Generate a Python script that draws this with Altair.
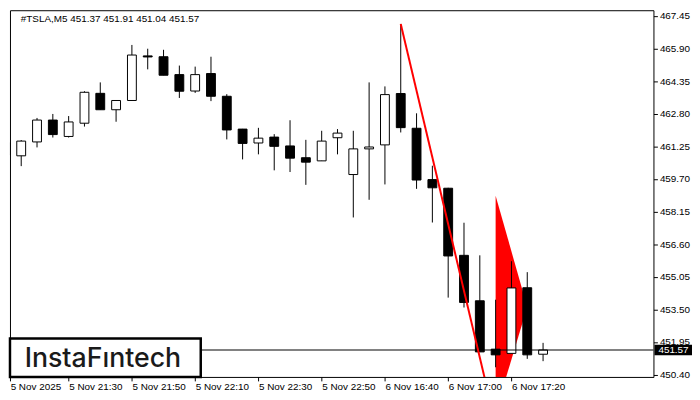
import altair as alt
import pandas as pd

# ---- data ----
opens  = [461.42, 460.80, 461.46, 462.50, 461.72, 462.35, 463.77, 462.99, 463.43, 465.55,
          465.51, 464.66, 463.88, 464.71, 463.63, 462.07, 461.41, 461.69, 461.27, 460.71,
          460.56, 461.66, 459.91, 461.13, 461.32, 463.76, 462.11, 459.67, 459.26, 456.07,
          453.91, 451.61, 451.41, 454.53, 451.37]
highs  = [462.10, 461.55, 462.60, 462.79, 462.69, 463.87, 464.29, 463.43, 466.07, 465.89,
          465.84, 465.09, 465.04, 465.51, 463.73, 462.08, 462.13, 461.83, 462.49, 461.56,
          461.99, 462.07, 461.99, 464.29, 464.10, 467.07, 462.82, 460.33, 459.28, 457.62,
          456.07, 453.96, 455.79, 455.27, 451.91]
lows   = [460.50, 460.31, 461.20, 461.67, 461.67, 462.19, 462.99, 462.42, 463.43, 464.91,
          464.63, 463.55, 463.79, 463.40, 461.58, 460.63, 460.87, 460.11, 460.03, 459.42,
          460.56, 460.87, 457.87, 458.71, 459.44, 461.91, 459.23, 457.63, 454.06, 453.59,
          451.48, 450.75, 451.41, 451.15, 451.04]
closes = [460.85, 461.50, 462.50, 461.81, 462.41, 463.82, 462.99, 463.43, 465.59, 465.50,
          464.63, 463.87, 464.66, 463.63, 462.03, 461.39, 461.64, 461.25, 460.69, 460.50,
          461.50, 461.88, 461.13, 461.22, 463.71, 462.14, 459.65, 459.28, 456.04, 453.83,
          451.48, 451.34, 454.52, 451.34, 451.57]

x_labels = ["5 Nov 2025", "5 Nov 21:30", "5 Nov 21:50", "5 Nov 22:10", "5 Nov 22:30",
            "5 Nov 22:50", "6 Nov 16:40", "6 Nov 17:00", "6 Nov 17:20"]
x_tick_pos = [0.3, 4, 8, 12, 16, 20, 24, 28, 32]
y_ticks = [467.45, 465.90, 464.35, 462.80, 461.25, 459.70, 458.15, 456.60, 455.05,
           453.50, 451.95, 450.40]

pole_x = [25, 31]
pole_y = [467.07, 448.04]
flag_x = [31, 33]
flag_top = [458.90, 453.61]
flag_bot = [448.63, 453.61]

last_price = 451.57
title_text = "#TSLA,M5  451.37 451.91 451.04 451.57"

# ---- layout ----
W, H = 651, 371
x_dom = [0.29, 40.98]
y_dom = [450.29, 467.72]
half_body = 0.28  # half candle width in bar units

df = pd.DataFrame({"i": list(range(len(opens))), "open": opens, "high": highs,
                   "low": lows, "close": closes})
df["fill"] = ["white" if c >= o else "black" for o, c in zip(opens, closes)]

xs = alt.Scale(domain=x_dom, nice=False, zero=False)
ys = alt.Scale(domain=y_dom, nice=False, zero=False)

label_list = "[" + ",".join("'%s'" % l for l in x_labels) + "]"
x_axis = alt.Axis(values=x_tick_pos, labelExpr=label_list + "[round(datum.value/4)]",
                  labelAlign="left", labelBaseline="top", tickSize=4, labelPadding=1,
                  domain=False, grid=False, title=None, labelFlush=False,
                  labelOverlap=False, labelFont="Liberation Sans", labelFontSize=10,
                  labelColor="black", tickColor="black")
y_axis = alt.Axis(orient="right", values=y_ticks, format=".2f", tickSize=4,
                  labelPadding=2, domain=False, grid=False, title=None,
                  labelFont="Liberation Sans", labelFontSize=10, labelColor="black",
                  tickColor="black", labelOverlap=False, labelFlush=False)


def X(f):
    return alt.X(f, type="quantitative", scale=xs, axis=x_axis)


def Y(f):
    return alt.Y(f, type="quantitative", scale=ys, axis=y_axis)


flag_df = pd.DataFrame({"x": flag_x, "top": flag_top, "bot": flag_bot})
flag = alt.Chart(flag_df).mark_area(color="#ff0000", opacity=1, clip=True).encode(
    x=X("x"), y=Y("top"), y2="bot")

wicks = alt.Chart(df).mark_rule(color="black", strokeWidth=1, clip=True).encode(
    x=X("i"), y=Y("high"), y2="low")

bodies = alt.Chart(df).transform_calculate(
    xl="datum.i - %f" % half_body, xr="datum.i + %f" % half_body
).mark_rect(stroke="black", strokeWidth=1, clip=True).encode(
    x=X("xl"), x2="xr", y=Y("open"), y2="close",
    fill=alt.Fill("fill:N", scale=None))

price_df = pd.DataFrame({"p": [last_price]})
price_line = alt.Chart(price_df).mark_rule(color="black", strokeWidth=1).encode(
    y=Y("p"), x=alt.value(0), x2=alt.value(W))

pole_df = pd.DataFrame({"x": pole_x, "y": pole_y})
pole = alt.Chart(pole_df).mark_line(color="#ff0000", strokeWidth=2, clip=True).encode(
    x=X("x"), y=Y("y"))

one = pd.DataFrame({"a": [0]})
logo_box = alt.Chart(one).mark_rect(fill="white", stroke="black", strokeWidth=2.5).encode(
    x=alt.value(0), x2=alt.value(193), y=alt.value(332), y2=alt.value(371))
logo_text = alt.Chart(one).mark_text(text="InstaFıntech", font="Inter", fontSize=27,
                                     fontWeight=500, color="#1a1a1a", align="center",
                                     baseline="alphabetic").encode(
    x=alt.value(94), y=alt.value(361))

title = alt.Chart(one).mark_text(text=title_text, font="Liberation Sans", fontSize=10,
                                 color="black", align="left", baseline="middle").encode(
    x=alt.value(11), y=alt.value(9))

pbox_df = pd.DataFrame({"p": [last_price], "hi": [last_price + 0.25],
                        "lo": [last_price - 0.25], "t": ["%.2f" % last_price]})
pbox = alt.Chart(pbox_df).mark_rect(fill="black").encode(
    y=Y("hi"), y2="lo", x=alt.value(W + 1), x2=alt.value(W + 39))
ptext = alt.Chart(pbox_df).mark_text(color="white", font="Liberation Sans", fontSize=10,
                                     align="left", baseline="middle").encode(
    y=Y("p"), x=alt.value(W + 5), text="t:N")

chart = alt.layer(flag, wicks, bodies, price_line, pole, logo_box, logo_text, title,
                  pbox, ptext).properties(
    width=W, height=H, padding=0, background="white"
).configure_view(stroke="black", strokeWidth=1)

chart.save("out.html", embed_options={"renderer": "svg", "actions": False})
